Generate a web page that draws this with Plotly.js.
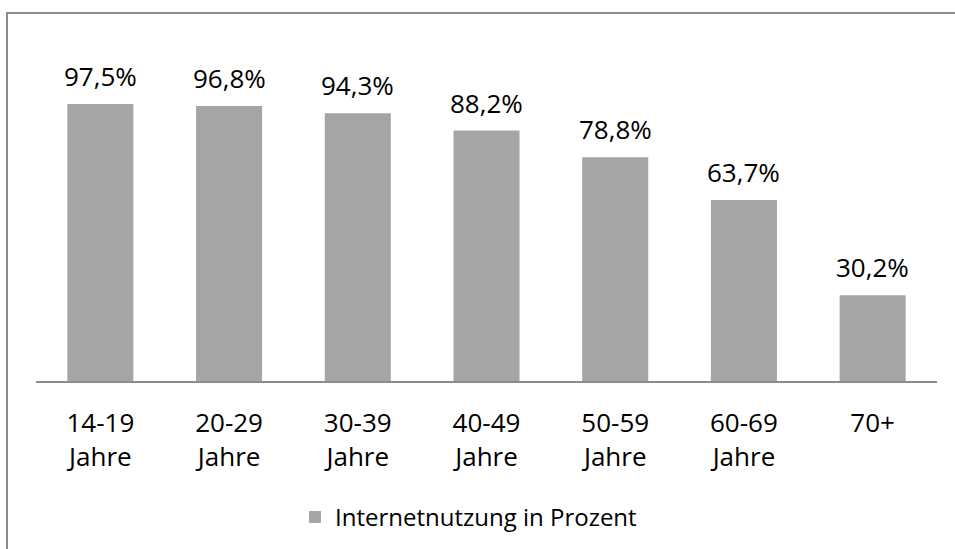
<!DOCTYPE html>
<html>
<head>
<meta charset="utf-8">
<script src="https://cdn.plot.ly/plotly-3.0.1.min.js"></script>
<style>
  html, body { margin: 0; padding: 0; background: #ffffff; }
  #wrap { position: relative; width: 955px; height: 549px; overflow: hidden; }
  #chart { width: 955px; height: 549px; }
  #frame { position: absolute; left: 6px; top: 12px; width: 960px; height: 560px;
           border: 2px solid #8c8c8c; box-sizing: border-box; pointer-events: none; }
</style>
</head>
<body>
<div id="wrap">
  <div id="chart"></div>
  <div id="frame"></div>
</div>
<script>
const categories = ["14-19<br>Jahre", "20-29<br>Jahre", "30-39<br>Jahre", "40-49<br>Jahre", "50-59<br>Jahre", "60-69<br>Jahre", "70+"];
const values = [97.5, 96.8, 94.3, 88.2, 78.8, 63.7, 30.2];
const valueLabels = ["97,5%", "96,8%", "94,3%", "88,2%", "78,8%", "63,7%", "30,2%"];
const seriesName = "Internetnutzung in Prozent";

const font = "Open Sans, Calibri, Carlito, sans-serif";
const fsize = 26;

const trace = {
  type: "bar",
  x: categories,
  y: values,
  name: seriesName,
  cliponaxis: false,
  marker: { color: "#a5a5a5", line: { width: 0 } },
  hoverinfo: "none"
};

const annotations = categories.map((c, i) => ({
  x: c,
  y: values[i],
  xref: "x",
  yref: "y",
  text: valueLabels[i],
  showarrow: false,
  yanchor: "bottom",
  xanchor: "center",
  yshift: 8,
  font: { family: font, size: fsize, color: "#000000" }
}));

const layout = {
  width: 955,
  height: 549,
  margin: { l: 36, r: 18, t: 97, b: 168, autoexpand: false },
  paper_bgcolor: "#ffffff",
  plot_bgcolor: "#ffffff",
  bargap: 0.487,
  showlegend: true,
  font: { family: font, size: fsize, color: "#000000" },
  annotations: annotations,
  xaxis: {
    type: "category",
    automargin: false,
    showline: true,
    linecolor: "#8c8c8c",
    linewidth: 2,
    ticks: "",
    showgrid: false,
    zeroline: false,
    tickfont: { family: font, size: fsize, color: "#000000" },
    ticklabelstandoff: 18
  },
  yaxis: {
    range: [0, 100],
    visible: false,
    automargin: false,
    showgrid: false,
    zeroline: false
  },
  legend: {
    orientation: "h",
    x: 0.48,
    xanchor: "center",
    y: -0.48,
    yanchor: "middle",
    font: { family: font, size: 24, color: "#000000" },
    itemwidth: 30
  }
};

Plotly.newPlot("chart", [trace], layout, { staticPlot: true, displayModeBar: false });
</script>
</body>
</html>
